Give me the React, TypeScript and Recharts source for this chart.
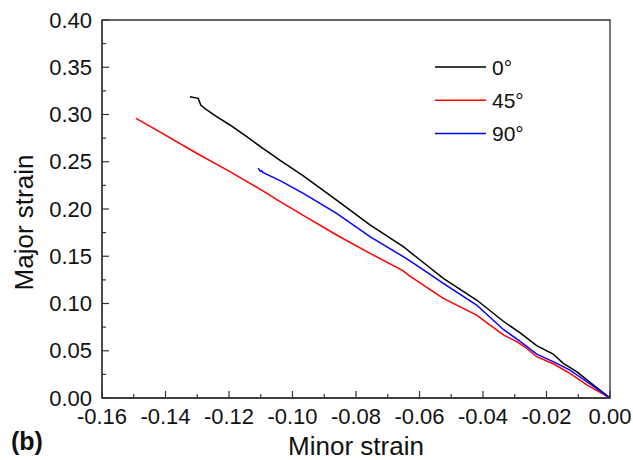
import React from "react";
import { Legend, Line, LineChart, ReferenceArea, XAxis, YAxis } from "recharts";

const FONT = "'Liberation Sans', Arial, Helvetica, sans-serif";
const FRAME = "#333333";

// tick values (majors get labels)
const X_TICKS = [
  -0.16, -0.15, -0.14, -0.13, -0.12, -0.11, -0.1, -0.09, -0.08, -0.07, -0.06,
  -0.05, -0.04, -0.03, -0.02, -0.01, 0,
];
const Y_TICKS = [
  0, 0.025, 0.05, 0.075, 0.1, 0.125, 0.15, 0.175, 0.2, 0.225, 0.25, 0.275, 0.3,
  0.325, 0.35, 0.375, 0.4,
];

// 0 deg
const BLACK_X = [
  -0.1323, -0.1297, -0.1289, -0.127, -0.1239, -0.1197, -0.1144, -0.1092, -0.1039,
  -0.0966, -0.0861, -0.0756, -0.0651, -0.0598, -0.0525, -0.042, -0.0336, -0.0283,
  -0.0231, -0.0179, -0.0147, -0.0105, -0.0053, 0,
];
const BLACK_Y = [
  0.3188, 0.3171, 0.3101, 0.3048, 0.2977, 0.2889, 0.2765, 0.2638, 0.2515, 0.235,
  0.2095, 0.1831, 0.1601, 0.146, 0.1267, 0.1037, 0.0812, 0.069, 0.0555, 0.0465,
  0.0367, 0.0278, 0.0138, 0,
];

// 45 deg
const RED_X = [
  -0.1493, -0.1407, -0.1302, -0.1197, -0.1092, -0.1039, -0.0966, -0.0861, -0.0756,
  -0.0651, -0.0635, -0.0525, -0.042, -0.0336, -0.0295, -0.027, -0.0231, -0.0179,
  -0.0126, -0.0073, 0,
];
const RED_Y = [
  0.296, 0.2795, 0.259, 0.2395, 0.219, 0.2078, 0.1933, 0.1725, 0.1531, 0.1345,
  0.13, 0.1055, 0.0878, 0.0667, 0.06, 0.0545, 0.0437, 0.0362, 0.0261, 0.0138, 0,
];

// 90 deg
const BLUE_X = [
  -0.1108, -0.1101, -0.1097, -0.1092, -0.1039, -0.0966, -0.0861, -0.0756, -0.0651,
  -0.0598, -0.0525, -0.042, -0.0336, -0.0283, -0.0231, -0.0179, -0.0126, -0.0073, 0,
];
const BLUE_Y = [
  0.2431, 0.2398, 0.2405, 0.2384, 0.23, 0.2166, 0.1954, 0.1707, 0.1495, 0.138,
  0.1214, 0.0984, 0.0725, 0.06, 0.0465, 0.0385, 0.0296, 0.0172, 0,
];

const SERIES = [
  { name: "0°", color: "#000000", xs: BLACK_X, ys: BLACK_Y },
  { name: "45°", color: "#ff0000", xs: RED_X, ys: RED_Y },
  { name: "90°", color: "#0000ff", xs: BLUE_X, ys: BLUE_Y },
];

const toPoints = (xs: number[], ys: number[]) => xs.map((x, i) => ({ x, y: ys[i] }));

const isMajorX = (v: number) => Math.abs(Math.round(v * 100)) % 2 === 0;
const isMajorY = (v: number) => Math.round(v * 1000) % 50 === 0;

function XTick(props: any) {
  const { x, y, payload } = props;
  const major = isMajorX(payload.value);
  return (
    <g>
      <line x1={x} y1={y} x2={x} y2={y - (major ? 7 : 4)} stroke={FRAME} strokeWidth={1.2} />
      {major && (
        <text x={x} y={y + 26} textAnchor="middle" fontSize={22} fontFamily={FONT} fill="#111">
          {payload.value.toFixed(2)}
        </text>
      )}
    </g>
  );
}

function YTick(props: any) {
  const { x, y, payload } = props;
  const major = isMajorY(payload.value);
  return (
    <g>
      <line x1={x} y1={y} x2={x + (major ? 7 : 4)} y2={y} stroke={FRAME} strokeWidth={1.2} />
      {major && (
        <text x={x - 10} y={y + 7.5} textAnchor="end" fontSize={22} fontFamily={FONT} fill="#111">
          {payload.value.toFixed(2)}
        </text>
      )}
    </g>
  );
}

function LegendBox() {
  return (
    <svg width={130} height={95} style={{ display: "block" }}>
      {SERIES.map((s, i) => {
        const cy = 12 + i * 33.2;
        return (
          <g key={s.name}>
            <line x1={0} y1={cy} x2={51} y2={cy} stroke={s.color} strokeWidth={1.5} />
            <text x={57} y={cy + 7.5} fontSize={21} fontFamily={FONT} fill="#111">
              {s.name}
            </text>
          </g>
        );
      })}
    </svg>
  );
}

export default function App() {
  return (
    <div style={{ position: "absolute", left: 0, top: 0, width: 633, height: 460, background: "#fff" }}>
      <LineChart width={633} height={460} margin={{ top: 20, right: 23, bottom: 0, left: 0 }}>
        <XAxis
          type="number"
          dataKey="x"
          domain={[-0.16, 0]}
          ticks={X_TICKS}
          interval={0}
          allowDataOverflow
          height={62}
          tickSize={0}
          tickMargin={0}
          tickLine={false}
          axisLine={{ stroke: FRAME, strokeWidth: 1.3 }}
          tick={<XTick />}
        />
        <YAxis
          type="number"
          dataKey="y"
          domain={[0, 0.4]}
          ticks={Y_TICKS}
          interval={0}
          allowDataOverflow
          width={102}
          tickSize={0}
          tickMargin={0}
          tickLine={false}
          axisLine={{ stroke: FRAME, strokeWidth: 1.3 }}
          tick={<YTick />}
        />
        <ReferenceArea x1={-0.16} x2={0} y1={0} y2={0.4} fill="none" stroke={FRAME} strokeWidth={1.3} />
        {SERIES.map((s) => (
          <Line
            key={s.name}
            name={s.name}
            data={toPoints(s.xs, s.ys)}
            dataKey="y"
            type="linear"
            stroke={s.color}
            strokeWidth={1.5}
            dot={false}
            isAnimationActive={false}
          />
        ))}
        <Legend
          layout="vertical"
          align="center"
          verticalAlign="middle"
          wrapperStyle={{ top: 55, left: 435, width: 130 }}
          content={() => <LegendBox />}
        />
        <text x={356} y={455} textAnchor="middle" fontSize={26} fontFamily={FONT} fill="#111">
          Minor strain
        </text>
        <text
          transform="translate(33,222.5) rotate(-90)"
          x={0}
          y={0}
          textAnchor="middle"
          fontSize={26}
          fontFamily={FONT}
          fill="#111"
        >
          Major strain
        </text>
        <text x={11} y={450} fontSize={25} fontWeight="bold" fontFamily={FONT} fill="#111">
          (b)
        </text>
      </LineChart>
    </div>
  );
}
